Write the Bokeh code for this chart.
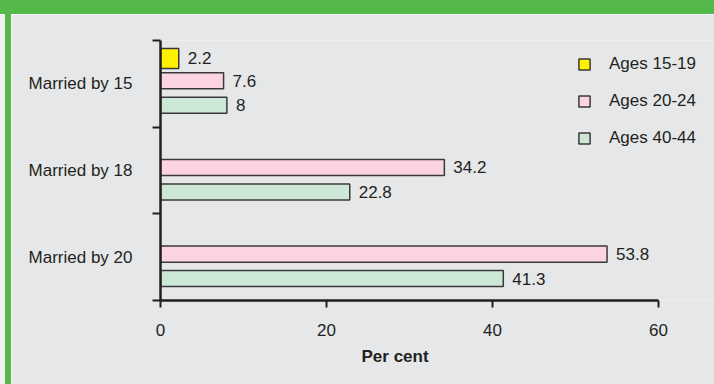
from bokeh.plotting import figure
from bokeh.models import (Range1d, FixedTicker, ColumnDataSource, Legend, LegendItem,
                          Title, Div)
from bokeh.layouts import column, row
from bokeh.embed import file_html
from bokeh.resources import INLINE
from bokeh.core.properties import value

# ---------------- data ----------------
categories = ["Married by 15", "Married by 18", "Married by 20"]
series_names = ["Ages 15-19", "Ages 20-24", "Ages 40-44"]
ages_15_19 = [2.2, None, None]
ages_20_24 = [7.6, 34.2, 53.8]
ages_40_44 = [8, 22.8, 41.3]
x_ticks = [0, 20, 40, 60]
x_title = "Per cent"

# ---------------- style ----------------
FONT = "Liberation Sans"
FS = "17px"
TXT = "#231f20"
BG = "#e6e7e8"
GREEN_FRAME = "#54b948"
fills = ["#fff200", "#fbd3e3", "#cce7d5"]
offsets = [0.586, 0.07, -0.494]     # dodge within a group (group spacing = 2 units)
heights = [0.46, 0.37, 0.37]

n = len(categories)
centers = [2 * (n - i) - 1 for i in range(n)]       # 5, 3, 1
bounds = [2 * k for k in range(n + 1)]               # 0, 2, 4, 6
x_axis_end = x_ticks[-1]
x_view_end = x_axis_end * 554 / 498                  # frame runs past the axis end

p = figure(width=703, height=370, output_backend="svg", toolbar_location=None,
           x_range=Range1d(0, x_view_end), y_range=Range1d(0, 2 * n),
           min_border_left=149, min_border_right=0, min_border_top=26,
           min_border_bottom=84)
p.background_fill_color = BG
p.border_fill_color = BG
p.outline_line_color = None
p.xgrid.visible = False
p.ygrid.visible = False

renderers = []
for vals, off, h, fc in zip([ages_15_19, ages_20_24, ages_40_44], offsets, heights, fills):
    ys, xs, labs = [], [], []
    for c, v in zip(centers, vals):
        if v is None:
            continue
        ys.append(c + off)
        xs.append(v)
        labs.append(f"{v:g}")
    src = ColumnDataSource(dict(y=ys, v=xs, label=labs))
    r = p.hbar(y="y", left=0, right="v", height=h, source=src, fill_color=fc,
               line_color="#3a3a3a", line_width=1.5)
    renderers.append(r)
    p.text(x="v", y="y", text="label", source=src, x_offset=9, text_baseline="middle",
           text_align="left", text_font=value(FONT), text_font_size=FS, text_color=TXT)

# y axis: labels at group centres, tick marks at group boundaries
yax = p.yaxis[0]
yax.ticker = FixedTicker(ticks=centers, minor_ticks=bounds)
yax.major_label_overrides = {c: cat for c, cat in zip(centers, categories)}
yax.major_tick_out = 0
yax.major_tick_in = 0
yax.minor_tick_out = 8
yax.minor_tick_in = 0
yax.minor_tick_line_width = 2
yax.minor_tick_line_color = TXT
yax.axis_line_width = 2.5
yax.axis_line_color = TXT
yax.major_label_standoff = 20
yax.major_label_text_font = FONT
yax.major_label_text_font_size = FS
yax.major_label_text_color = TXT

xax = p.xaxis[0]
xax.ticker = FixedTicker(ticks=x_ticks)
xax.bounds = (0, x_axis_end)
xax.major_tick_out = 7
xax.major_tick_in = 0
xax.major_tick_line_width = 2
xax.major_tick_line_color = TXT
xax.minor_tick_line_color = None
xax.axis_line_width = 2.5
xax.axis_line_color = TXT
xax.major_label_standoff = 16
xax.major_label_text_font = FONT
xax.major_label_text_font_size = FS
xax.major_label_text_color = TXT

p.add_layout(Title(text=x_title, text_font=FONT, text_font_size=FS,
                   text_font_style="bold", text_color=TXT, align="left",
                   offset=201, standoff=13), "below")

legend = Legend(items=[LegendItem(label=nm, renderers=[r]) for nm, r in zip(series_names, renderers)],
                location=(417, 152), glyph_width=14, glyph_height=14, label_height=20,
                label_standoff=18, spacing=17, padding=0, margin=0,
                label_text_font=FONT, label_text_font_size=FS, label_text_color=TXT,
                background_fill_alpha=0, border_line_color=None)
p.add_layout(legend)

top_band = Div(text="", width=714, height=14, margin=0,
               styles={"background-color": GREEN_FRAME})
left_strip = Div(text="", width=5, height=370, margin=0,
                 styles={"background-color": "#f2f2f2"})
left_band = Div(text="", width=6, height=370, margin=0,
                styles={"background-color": GREEN_FRAME})
layout = column(top_band, row(left_strip, left_band, p, spacing=0), spacing=0)

open("out.html", "w").write(file_html(layout, INLINE))
